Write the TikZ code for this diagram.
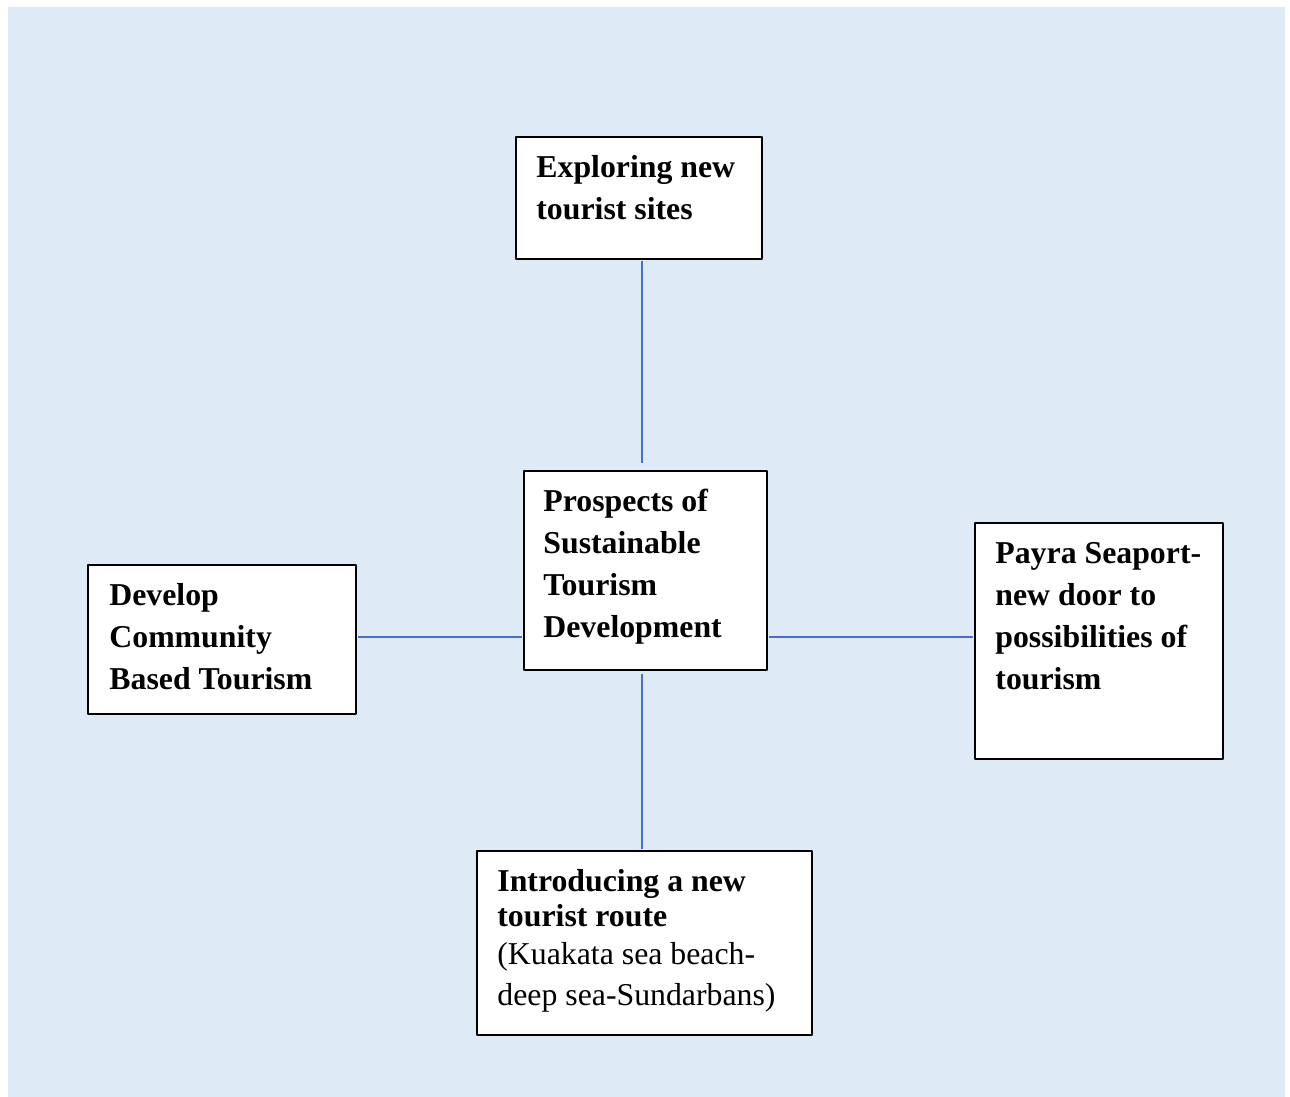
\documentclass[tikz,border=0pt]{standalone}
\usepackage{fontspec}
\setmainfont{Liberation Serif}
\definecolor{bgblue}{HTML}{DEEAF6}
\definecolor{linkblue}{HTML}{4472C4}
\begin{document}
\begin{tikzpicture}[x=0.5pt, y=-0.5pt, line join=round,
    box/.style={draw=black, line width=0.9pt, fill=white, anchor=north west, inner sep=0pt},
    txt/.style={anchor=base west, inner sep=0pt, font=\fontsize{15.9}{21}\selectfont},
    link/.style={draw=linkblue, line width=0.7pt, shorten <=0.5pt, shorten >=0.5pt}]
    \useasboundingbox (0,0) rectangle (1290,1097);
    \fill[white] (0,0) rectangle (1290,1097);
    \fill[bgblue] (8,7) rectangle (1285,1097);
    % boxes
    \node[box, minimum width=123pt, minimum height=61pt] (sites) at (515,136) {};
    \node[box, minimum width=121.5pt, minimum height=99.5pt] (core) at (523,470) {};
    \node[box, minimum width=134pt, minimum height=74.5pt] (community) at (87,564) {};
    \node[box, minimum width=124pt, minimum height=118pt] (seaport) at (974,522) {};
    \node[box, minimum width=167.5pt, minimum height=92pt] (route) at (476,850) {};
    % texts
    \node[txt] (sitestxt) at ([shift={(21,41)}]sites.north west)
        {\parbox[t]{200pt}{\raggedright\bfseries Exploring new\\ tourist sites}};
    \node[txt] (coretxt) at ([shift={(20,41)}]core.north west)
        {\parbox[t]{200pt}{\raggedright\bfseries Prospects of\\ Sustainable\\ Tourism\\ Development}};
    \node[txt] (communitytxt) at ([shift={(22,41)}]community.north west)
        {\parbox[t]{200pt}{\raggedright\bfseries Develop\\ Community\\ Based Tourism}};
    \node[txt] (seaporttxt) at ([shift={(21,41)}]seaport.north west)
        {\parbox[t]{200pt}{\raggedright\bfseries Payra Seaport-\\ new door to\\ possibilities of\\ tourism}};
    \node[txt] (routetxt) at ([shift={(21,41)}]route.north west)
        {\parbox[t]{200pt}{\raggedright{\bfseries Introducing a new\\[-3.5pt] tourist route}\\[-2pt]
        (Kuakata sea beach-\\[-0.5pt] deep sea-Sundarbans)}};
    % connectors
    \coordinate (axis) at (642,0);
    \coordinate (level) at (0,637);
    \draw[link, shorten >=3.5pt] (sites.south -| axis) -- (core.north -| axis);
    \draw[link, shorten <=1.5pt] (core.south -| axis) -- (route.north -| axis);
    \draw[link] (core.west |- level) -- (community.east |- level);
    \draw[link] (core.east |- level) -- (seaport.west |- level);
\end{tikzpicture}
\end{document}
